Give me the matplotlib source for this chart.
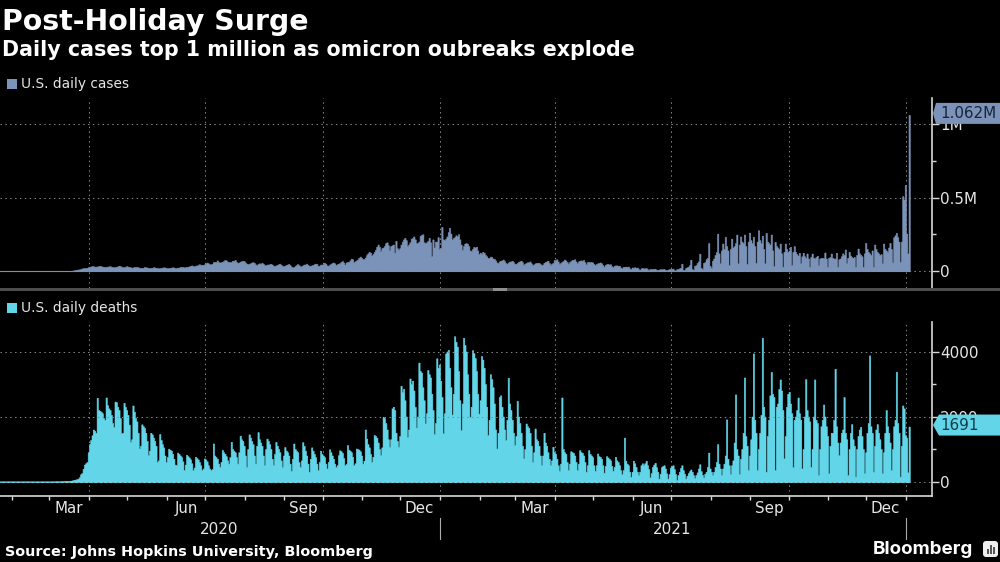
import numpy as np
import pandas as pd
import matplotlib
matplotlib.use('Agg')
import matplotlib.pyplot as plt
import matplotlib.dates as mdates
from matplotlib.patches import Polygon, Rectangle, FancyBboxPatch
from matplotlib.transforms import IdentityTransform

title = 'Post-Holiday Surge'
subtitle = 'Daily cases top 1 million as omicron oubreaks explode'
source = 'Source: Johns Hopkins University, Bloomberg'
cases_label = 'U.S. daily cases'
deaths_label = 'U.S. daily deaths'
month_labels = ['Mar', 'Jun', 'Sep', 'Dec', 'Mar', 'Jun', 'Sep', 'Dec']
month_label_dates = ['2020-03-16', '2020-06-16', '2020-09-16', '2020-12-16',
                     '2021-03-16', '2021-06-16', '2021-09-16', '2021-12-16']
grid_dates = ['2020-04-01', '2020-07-01', '2020-10-01', '2021-01-01',
              '2021-04-01', '2021-07-01', '2021-10-01', '2022-01-01']
cases_ticks = [0, 500000, 1000000]
cases_ticklabels = ['0', '0.5M', '1M']
cases_minor = [250000, 750000]
deaths_ticks = [0, 2000, 4000]
deaths_ticklabels = ['0', '2000', '4000']
deaths_minor = [1000, 3000]

# daily values, one row per week starting 2020-01-22 (cases in thousands)
cases_weeks = [
    [0, 0, 0, 0, 0, 0, 0], [0, 0, 0, 0, 0, 0, 0], [0, 0, 0, 0, 0, 0, 0],
    [0, 0, 0, 0, 0, 0, 0], [0, 0, 0, 0, 0, 0, 0], [0, 0, 0, 0, 0, 0, 0],
    [0.03, 0.05, 0.07, 0.1, 0.1, 0.15, 0.2], [0.3, 0.4, 0.5, 0.7, 1, 1, 1.5],
    [2, 3, 5, 7, 9, 10, 11], [13, 17, 19, 20, 20, 22, 26],
    [28, 31, 33, 32, 30, 30, 31], [32, 35, 33, 30, 28, 28, 28],
    [30, 31, 33, 29, 27, 25, 27], [29, 31, 36, 34, 28, 26, 26],
    [28, 33, 30, 28, 25, 23, 24], [28, 28, 27, 26, 20, 21, 22],
    [22, 27, 25, 24, 20, 19, 22], [22, 26, 24, 22, 20, 18, 19],
    [21, 23, 25, 24, 20, 18, 20], [21, 23, 25, 24, 20, 19, 23],
    [23, 28, 26, 27, 25, 25, 28], [29, 32, 34, 38, 33, 32, 36],
    [38, 40, 46, 42, 42, 40, 45], [52, 57, 52, 46, 45, 50, 60],
    [62, 60, 72, 60, 58, 60, 62], [68, 75, 72, 64, 60, 62, 62],
    [70, 70, 75, 62, 55, 58, 64], [66, 70, 68, 58, 50, 46, 50],
    [52, 58, 60, 55, 45, 40, 48], [52, 50, 56, 50, 40, 38, 44],
    [44, 46, 48, 44, 36, 32, 38], [42, 46, 50, 42, 34, 32, 36],
    [42, 44, 48, 40, 30, 24, 26], [34, 40, 47, 40, 32, 32, 38],
    [44, 44, 50, 42, 36, 36, 38], [42, 46, 50, 48, 36, 36, 44],
    [44, 46, 56, 50, 38, 36, 42], [50, 54, 58, 52, 42, 46, 50],
    [54, 62, 68, 58, 44, 58, 60], [62, 72, 84, 80, 60, 66, 72],
    [78, 90, 98, 90, 80, 82, 92], [108, 120, 130, 125, 105, 115, 130],
    [145, 165, 180, 165, 135, 155, 160], [170, 190, 195, 175, 140, 170, 175],
    [180, 125, 205, 155, 145, 155, 180], [200, 215, 225, 210, 170, 180, 195],
    [220, 225, 235, 215, 190, 190, 200], [240, 245, 250, 195, 190, 195, 205],
    [225, 195, 100, 215, 160, 200, 200], [230, 150, 155, 300, 215, 210, 220],
    [235, 265, 293, 255, 215, 225, 230], [243, 235, 250, 215, 180, 145, 170],
    [187, 190, 185, 170, 140, 135, 150], [164, 160, 165, 140, 115, 125, 115],
    [130, 125, 110, 100, 90, 90, 98], [95, 85, 82, 72, 58, 56, 65],
    [70, 72, 78, 68, 55, 50, 58], [64, 65, 70, 60, 50, 48, 55],
    [62, 66, 70, 60, 42, 50, 55], [60, 58, 65, 52, 40, 45, 52],
    [54, 56, 56, 48, 38, 44, 56], [62, 65, 70, 55, 42, 50, 55],
    [75, 72, 80, 65, 48, 55, 62], [68, 78, 72, 62, 50, 60, 68],
    [75, 76, 80, 65, 52, 65, 70], [72, 70, 75, 60, 45, 60, 62],
    [60, 62, 58, 48, 40, 48, 52], [55, 58, 52, 40, 30, 42, 46],
    [48, 44, 46, 32, 26, 36, 38], [38, 36, 36, 24, 18, 28, 28],
    [30, 28, 30, 18, 12, 24, 22], [26, 22, 24, 14, 8, 18, 20],
    [18, 18, 20, 12, 8, 14, 14], [14, 14, 16, 8, 6, 10, 12],
    [12, 12, 14, 8, 4, 10, 12], [14, 15, 16, 5, 3, 12, 14],
    [18, 22, 50, 8, 5, 20, 25], [30, 40, 77, 14, 8, 35, 40],
    [55, 65, 118, 22, 12, 55, 60], [80, 90, 190, 35, 22, 70, 85],
    [110, 130, 254, 120, 52, 140, 187], [150, 232, 170, 140, 41, 150, 220],
    [160, 170, 190, 248, 52, 180, 235], [200, 190, 248, 170, 48, 200, 261],
    [210, 190, 232, 170, 55, 200, 277], [210, 190, 240, 150, 52, 259, 200],
    [190, 180, 248, 140, 33, 198, 170], [160, 150, 187, 120, 29, 130, 187],
    [150, 130, 140, 164, 40, 130, 169], [130, 115, 105, 124, 52, 100, 124],
    [100, 90, 119, 85, 29, 95, 119], [90, 85, 95, 104, 40, 85, 90],
    [90, 85, 126, 85, 29, 90, 95], [119, 90, 85, 85, 124, 29, 80],
    [85, 100, 120, 110, 146, 52, 90], [130, 105, 95, 90, 95, 29, 110],
    [153, 120, 110, 100, 29, 120, 191], [150, 130, 120, 110, 140, 29, 180],
    [150, 130, 120, 110, 115, 52, 187], [150, 140, 130, 160, 191, 150, 58],
    [230, 243, 259, 230, 200, 63, 200], [509, 486, 585, 254, 119, 1062],
]

deaths_weeks = [
    [0, 0, 0, 0, 0, 0, 0], [0, 0, 0, 0, 0, 0, 0], [0, 0, 0, 0, 0, 0, 0],
    [0, 0, 0, 0, 0, 0, 0], [0, 0, 0, 0, 0, 0, 0], [0, 0, 0, 0, 0, 0, 0],
    [1, 2, 4, 2, 1, 3, 4], [6, 7, 10, 8, 10, 12, 18],
    [30, 40, 50, 60, 70, 90, 130], [220, 260, 390, 520, 560, 600, 900],
    [1150, 1280, 1420, 1600, 1560, 1500, 2575], [2200, 2180, 2150, 2100, 1950, 1900, 2585],
    [2350, 2250, 2200, 2050, 1800, 1680, 2460], [2440, 2300, 2200, 1950, 1480, 1500, 2420],
    [2300, 2200, 2050, 1750, 1220, 1300, 2340], [2150, 1950, 1850, 1500, 1015, 1100, 1760],
    [1700, 1650, 1500, 1250, 810, 950, 1500], [1450, 1350, 1250, 1100, 600, 650, 1460],
    [1280, 1150, 1050, 800, 600, 750, 1010], [980, 950, 850, 700, 520, 500, 890],
    [850, 800, 750, 620, 350, 520, 820], [780, 740, 680, 560, 350, 430, 760],
    [720, 680, 600, 500, 350, 400, 710], [680, 620, 500, 400, 350, 380, 1170],
    [800, 750, 700, 550, 450, 600, 970], [900, 850, 780, 650, 550, 750, 1220],
    [1000, 950, 900, 750, 550, 900, 1410], [1300, 1250, 1100, 800, 450, 1000, 1450],
    [1350, 1250, 1150, 800, 550, 1100, 1520], [1300, 1200, 1100, 800, 500, 1000, 1320],
    [1250, 1150, 1000, 700, 500, 850, 1220], [1100, 1000, 900, 650, 440, 800, 1060],
    [950, 900, 800, 550, 330, 700, 1170], [1000, 950, 900, 600, 440, 650, 1210],
    [1100, 950, 800, 550, 300, 700, 1050], [950, 850, 750, 550, 350, 600, 950],
    [850, 800, 750, 550, 400, 600, 990], [900, 800, 700, 550, 440, 500, 810],
    [960, 930, 880, 720, 500, 540, 1120], [980, 950, 900, 760, 500, 560, 1015],
    [1000, 980, 930, 800, 550, 640, 1600], [1320, 1150, 1050, 850, 600, 760, 1430],
    [1400, 1350, 1200, 1000, 810, 1050, 1990], [1950, 1800, 1600, 1300, 1070, 1300, 2250],
    [2300, 2200, 1500, 1250, 1070, 1400, 2945], [2750, 2850, 2500, 2000, 1370, 1600, 3170],
    [3000, 3100, 2800, 2300, 1660, 2000, 3660], [3400, 3350, 2900, 2500, 1785, 2100, 3430],
    [3300, 3200, 2700, 2200, 1455, 1800, 3790], [3500, 3600, 3100, 2600, 1480, 2100, 3940],
    [4000, 4050, 3500, 2900, 2060, 2700, 4470], [4300, 4150, 3400, 2500, 1580, 2400, 4420],
    [4200, 4000, 3300, 2700, 1990, 2300, 4040], [3950, 3800, 3400, 2700, 2090, 2500, 3860],
    [3750, 3500, 3000, 2300, 1425, 1900, 3300], [3150, 2900, 2400, 1600, 1015, 1500, 2600],
    [2650, 2300, 2000, 1600, 1270, 1900, 3190], [2400, 2200, 1900, 1500, 1120, 1400, 2480],
    [2000, 1800, 1500, 1100, 710, 1000, 1785], [1700, 1650, 1500, 1100, 600, 900, 1630],
    [1300, 1250, 1100, 800, 500, 800, 1500], [1200, 1100, 900, 700, 500, 650, 1070],
    [900, 850, 700, 500, 330, 550, 2585], [1000, 900, 850, 600, 350, 550, 930],
    [900, 880, 800, 600, 350, 550, 965], [900, 880, 800, 600, 300, 500, 965],
    [850, 800, 750, 500, 330, 500, 860], [780, 760, 700, 500, 270, 480, 780],
    [740, 700, 650, 480, 330, 450, 760], [650, 600, 500, 350, 225, 350, 1350],
    [640, 550, 500, 300, 145, 300, 640], [560, 450, 300, 195, 300, 500, 560],
    [500, 560, 640, 500, 380, 125, 260], [450, 520, 575, 440, 300, 90, 240],
    [440, 480, 500, 400, 250, 90, 230], [430, 470, 500, 380, 230, 40, 200],
    [300, 420, 500, 350, 240, 90, 180], [260, 320, 370, 300, 195, 100, 200],
    [280, 400, 530, 320, 200, 120, 240], [300, 450, 890, 400, 300, 195, 300],
    [450, 600, 1150, 550, 400, 195, 400], [550, 800, 1910, 700, 500, 225, 500],
    [650, 1200, 2680, 1000, 800, 225, 700], [1000, 1500, 3200, 1400, 1100, 350, 800],
    [1300, 2000, 3940, 1900, 1500, 350, 1000], [1500, 2050, 4420, 2300, 2000, 300, 1400],
    [1900, 2650, 3370, 2700, 2600, 350, 2300], [2400, 2850, 3140, 2800, 2200, 710, 1400],
    [2300, 2700, 2760, 2400, 2100, 440, 1900], [2000, 2200, 2585, 2100, 1900, 400, 1000],
    [2000, 3150, 2200, 2000, 1850, 450, 1000], [2000, 3140, 1900, 1800, 195, 1000, 1700],
    [1900, 2370, 2000, 1700, 1400, 250, 1100], [1500, 1500, 1900, 3470, 1700, 1200, 810],
    [1200, 1500, 1600, 2600, 1500, 1300, 195], [1000, 1500, 1765, 1300, 1100, 150, 1000],
    [1400, 1600, 1680, 1400, 1000, 250, 900], [1500, 1800, 3880, 1700, 1500, 300, 1100],
    [1600, 1765, 1500, 1300, 1000, 250, 900], [1500, 2200, 1700, 1500, 1200, 350, 1000],
    [1700, 1900, 3375, 1800, 1500, 150, 1100], [2340, 2250, 1430, 1350, 280, 1691],
]

cases = np.concatenate(cases_weeks) * 1000
deaths = np.concatenate(deaths_weeks)
dates = pd.date_range('2020-01-22', periods=len(cases))

BG = 'black'
CASES_C = '#7b93b8'
DEATHS_C = '#62d6e8'
GRID_C = '#8a8a8a'
AXIS_C = '#d8d8d8'
TEXT_C = '#e6e6e6'
W, H = 1000, 562
DOTS = (0, (1.5, 3.5))


def fx(x):
    return x / W


def fy(y):
    return 1 - y / H


fig = plt.figure(figsize=(10, 5.62), dpi=100, facecolor=BG)
ax1 = fig.add_axes([0, fy(288), fx(931.5), (288 - 98) / H], facecolor=BG)
ax2 = fig.add_axes([0, fy(496), fx(931.5), (496 - 322) / H], facecolor=BG)

xnums = mdates.date2num(dates)
xmin = mdates.date2num(pd.Timestamp('2020-01-22 08:00'))
xmax = mdates.date2num(pd.Timestamp('2022-01-21'))
month_starts = mdates.date2num(pd.date_range('2020-02-01', '2022-01-01', freq='MS'))
grid_x = mdates.date2num(pd.to_datetime(grid_dates))

panels = [
    (ax1, cases, CASES_C, cases_ticks, cases_ticklabels, cases_minor, (-115600, 1177000)),
    (ax2, deaths, DEATHS_C, deaths_ticks, deaths_ticklabels, deaths_minor, (-446, 4908)),
]
for ax, vals, col, ticks, ticklabels, minor, ylim in panels:
    # daily bars as one stepped area, so neighbouring bars leave no seams
    x_edges = np.append(xnums, xnums[-1] + 1)
    y_edges = np.append(vals, vals[-1])
    ax.fill_between(x_edges, y_edges, step='post', color=col, linewidth=0.4, zorder=2)
    ax.plot([xnums[0], xnums[-1] + 1], [0, 0], color=col, lw=0.8, zorder=2)
    ax.set_xlim(xmin, xmax)
    ax.set_ylim(*ylim)
    for s in ['top', 'left', 'bottom']:
        ax.spines[s].set_visible(False)
    ax.spines['right'].set_color(AXIS_C)
    ax.spines['right'].set_linewidth(1.2)
    ax.yaxis.tick_right()
    ax.set_yticks(ticks, labels=ticklabels)
    ax.set_yticks(minor, minor=True)
    ax.tick_params(axis='y', which='major', length=5, width=1, color=AXIS_C,
                   labelcolor=TEXT_C, labelsize=10.9, pad=1)
    ax.tick_params(axis='y', which='minor', length=3, width=1, color=AXIS_C)
    for t in ticks:
        ax.axhline(t, color=GRID_C, lw=0.7, ls=DOTS, zorder=3)
    for g in grid_x:
        ax.axvline(g, color=GRID_C, lw=0.7, ls=DOTS, zorder=1)

ax1.set_xticks([])

# bottom axis: month ticks, quarter names centred inside their month
ax2.spines['bottom'].set_visible(True)
ax2.spines['bottom'].set_color(AXIS_C)
ax2.spines['bottom'].set_linewidth(1.2)
ax2.set_xticks(month_starts)
ax2.set_xticklabels([])
ax2.set_xticks(mdates.date2num(pd.to_datetime(month_label_dates)), labels=month_labels, minor=True)
ax2.tick_params(axis='x', which='major', length=3, width=1, color=AXIS_C)
ax2.tick_params(axis='x', which='minor', length=0, labelcolor=TEXT_C, labelsize=10.9, pad=3.5)

# year labels and the separators below the axis
year_tr = ax2.get_xaxis_transform()
for yr, d in [('2020', '2020-07-12'), ('2021', '2021-07-02')]:
    ax2.text(mdates.date2num(pd.Timestamp(d)), -(530 - 496) / 174, yr, transform=year_tr,
             color=TEXT_C, fontsize=10.9, ha='center', va='center')
for d in ['2021-01-01', '2022-01-01']:
    x = mdates.date2num(pd.Timestamp(d))
    ax2.plot([x, x], [-(518 - 496) / 174, -(539 - 496) / 174], transform=year_tr,
             color='#aaaaaa', lw=0.8, clip_on=False)

# divider between the panels
fig.add_artist(Rectangle((0, fy(291)), 1, 3 / H, transform=fig.transFigure, color='#4d4d4d', lw=0))
fig.add_artist(Rectangle((fx(493), fy(291)), 14 / W, 3 / H, transform=fig.transFigure, color='#8f8f8f', lw=0))

# headline text
fig.text(fx(2), fy(22), title, color='white', fontsize=20.4, fontweight='bold', va='center')
fig.text(fx(2), fy(50), subtitle, color='white', fontsize=14.85, fontweight='bold', va='center')
fig.text(fx(5), fy(552), source, color='white', fontsize=10.4, fontweight='bold', va='center')

# legends
for ly, col, lab in [(84, CASES_C, cases_label), (308, DEATHS_C, deaths_label)]:
    fig.add_artist(Rectangle((fx(7), fy(ly + 5)), 10 / W, 10 / H, transform=fig.transFigure, color=col, lw=0))
    fig.text(fx(21), fy(ly), lab, color=TEXT_C, fontsize=9.9, va='center')

# last value tags
tags = [(ax1, cases[-1], '1.062M', CASES_C, '#17243a', 936),
        (ax2, deaths[-1], '1691', DEATHS_C, '#0d3a44', 939)]
fig.canvas.draw()
for ax, val, lab, col, tcol, x0 in tags:
    yc = H - ax.transData.transform((xmin, val))[1]
    yc = yc - 1.5
    half = 10.5
    pts = [(933, yc), (x0, yc - half), (1000, yc - half), (1000, yc + half), (x0, yc + half)]
    fig.add_artist(Polygon([(fx(a), fy(b)) for a, b in pts], closed=True, transform=fig.transFigure,
                           facecolor=col, edgecolor='none', zorder=10))
    fig.text(fx(940), fy(yc), lab, color=tcol, fontsize=10.9, va='center', zorder=11)

# Bloomberg mark
fig.text(fx(973), fy(550), 'Bloomberg', color='white', fontsize=13.5, fontweight='bold',
         family='Inter', ha='right', va='center')
fig.add_artist(FancyBboxPatch((984, H - 556), 13, 14, boxstyle='round,pad=1,rounding_size=3',
                              transform=IdentityTransform(), facecolor='#eeeeee', edgecolor='none'))
for bx, bh in [(986.5, 5), (989.5, 9), (992.5, 7)]:
    fig.add_artist(Rectangle((fx(bx), fy(554)), 2 / W, bh / H, transform=fig.transFigure, color='#555555', lw=0))

fig.savefig('out.png', dpi=100, facecolor=BG)
